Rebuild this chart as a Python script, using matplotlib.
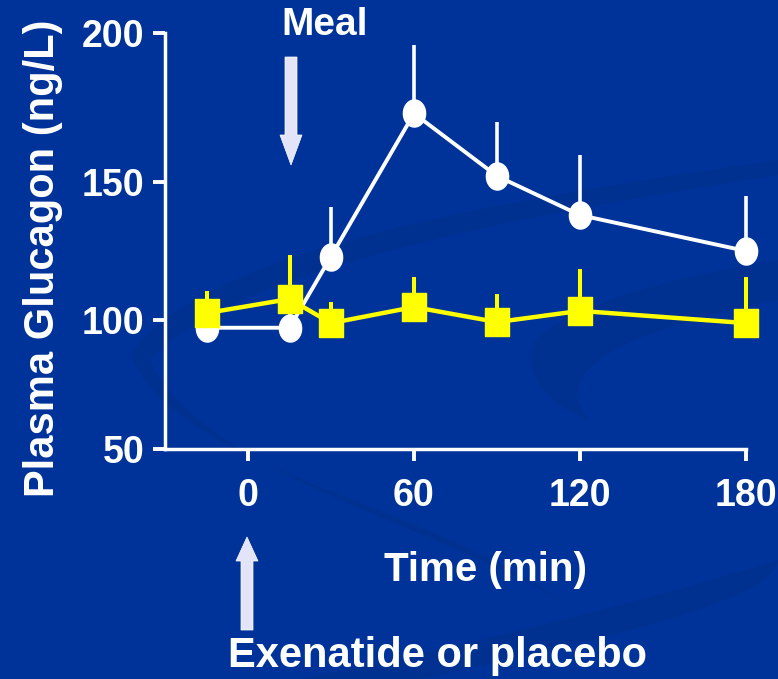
import numpy as np
import matplotlib
matplotlib.use("Agg")
import matplotlib.pyplot as plt
from matplotlib.path import Path
from matplotlib.patches import FancyArrow, PathPatch
from matplotlib.transforms import Affine2D

# ---- data ----
time_min = [-15, 15, 30, 60, 90, 120, 180]
placebo = [97, 97, 123, 173, 152, 138, 125]
placebo_err = [4, 6, 18, 23, 18, 21, 20]
exenatide = [102.5, 107.6, 98.8, 104.7, 99.2, 103.3, 98.8]
exenatide_err = [8, 16, 7.7, 10.9, 10.2, 15.2, 16.8]
x_ticks = [0, 60, 120, 180]
y_ticks = [50, 100, 150, 200]
y_tick_pix = [0, 129, 267, 416]  # drawn (uneven) tick spacing of the original axis

BG = "#003399"
DARK = "#003090"
plt.rcParams['font.family'] = ['Liberation Sans', 'DejaVu Sans']
plt.rcParams['font.weight'] = 'bold'

W, H = 778, 679
fig = plt.figure(figsize=(W / 100, H / 100), dpi=100)
fig.patch.set_facecolor(BG)

# pixel transform (origin top-left)
pix = Affine2D().scale(1 / 100, -1 / 100).translate(0, H / 100) + fig.dpi_scale_trans

# background swooshes
def swoosh(verts, codes, color=DARK, alpha=1.0):
    p = PathPatch(Path(verts, codes), facecolor=color, edgecolor='none',
                  transform=pix, zorder=0, alpha=alpha)
    fig.add_artist(p)

C4 = Path.CURVE4
swoosh([(130, 355), (200, 250), (500, 200), (778, 160), (778, 175),
        (520, 215), (230, 270), (150, 360), (200, 470), (420, 520), (560, 600),
        (420, 500), (180, 470), (130, 355)],
       [Path.MOVETO, C4, C4, C4, Path.LINETO, C4, C4, C4, C4, C4, C4, C4, C4, C4])
swoosh([(778, 260), (650, 280), (520, 320), (530, 360), (535, 390), (560, 410), (590, 420),
        (560, 390), (570, 340), (778, 300), (778, 260)],
       [Path.MOVETO, C4, C4, C4, C4, C4, C4, C4, C4, C4, Path.CLOSEPOLY])
swoosh([(778, 560), (650, 600), (450, 650), (300, 679), (420, 679), (600, 640), (778, 600), (778, 560)],
       [Path.MOVETO, C4, C4, C4, Path.LINETO, C4, C4, Path.CLOSEPOLY])

ax = fig.add_axes([165 / W, (H - 449) / H, 581 / W, 416 / H])
ax.set_facecolor('none')

def fwd(y):
    y = np.asarray(y, dtype=float)
    out = np.interp(y, y_ticks, y_tick_pix)
    lo = y < y_ticks[0]
    hi = y > y_ticks[-1]
    out = np.where(lo, (y - y_ticks[0]) * (129 / 50), out)
    out = np.where(hi, 416 + (y - y_ticks[-1]) * (149 / 50), out)
    return out

def inv(p):
    p = np.asarray(p, dtype=float)
    out = np.interp(p, y_tick_pix, y_ticks)
    out = np.where(p < 0, y_ticks[0] + p * (50 / 129), out)
    out = np.where(p > 416, y_ticks[-1] + (p - 416) * (50 / 149), out)
    return out

ax.set_yscale('function', functions=(fwd, inv))
ax.set_xlim(-30, 180)
ax.set_ylim(50, 200)

# elliptical markers (original image is slightly squeezed horizontally)
t = np.linspace(0, 2 * np.pi, 60)
ellipse = Path(np.column_stack([0.82 * np.cos(t), np.sin(t)]), closed=True)
rect = Path([(-0.85, -1), (0.85, -1), (0.85, 1), (-0.85, 1), (-0.85, -1)], closed=True)

ms = 19.5
# placebo (white)
ax.errorbar(time_min, placebo, yerr=[np.zeros(len(placebo)), placebo_err], fmt='none',
            ecolor='white', elinewidth=2.6, capsize=0, zorder=2, clip_on=False)
ax.plot(time_min, placebo, color='white', lw=2.8, marker=ellipse, ms=ms,
        markerfacecolor='white', markeredgecolor='white', zorder=3, clip_on=False)
# exenatide (yellow)
ax.errorbar(time_min, exenatide, yerr=[np.zeros(len(exenatide)), exenatide_err], fmt='none',
            ecolor='#ffff00', elinewidth=2.9, capsize=0, zorder=4, clip_on=False)
ax.plot(time_min, exenatide, color='#ffff00', lw=3.2, marker=rect, ms=ms,
        markerfacecolor='#ffff00', markeredgecolor='#ffff00', zorder=5, clip_on=False)

for s in ['top', 'right']:
    ax.spines[s].set_visible(False)
for s in ['left', 'bottom']:
    ax.spines[s].set_color('white')
    ax.spines[s].set_linewidth(2.5)

ax.set_xticks(x_ticks)
ax.set_xticklabels([str(v) for v in x_ticks])
ax.set_yticks(y_ticks)
ax.set_yticklabels([str(v) for v in y_ticks])
ax.minorticks_off()
ax.tick_params(axis='both', colors='white', length=8.6, width=2.8, labelsize=27)
ax.tick_params(axis='x', pad=12)
ax.tick_params(axis='y', pad=6)
for lab in ax.get_xticklabels() + ax.get_yticklabels():
    lab.set_fontweight('bold')

# texts
fig.text(43, 258, "Plasma Glucagon (ng/L)", rotation=90, ha='center', va='center',
         color='white', fontsize=30, fontweight='bold', transform=pix)
fig.text(485, 570, "Time (min)", ha='center', va='center', color='white',
         fontsize=29, fontweight='bold', transform=pix)
fig.text(438, 656, "Exenatide or placebo", ha='center', va='center', color='white',
         fontsize=30, fontweight='bold', transform=pix)
fig.text(325, 25, "Meal", ha='center', va='center', color='white',
         fontsize=28, fontweight='bold', transform=pix)

# arrows
arrow_col = '#e4e4f8'
fig.add_artist(FancyArrow(291, 57, 0, 108, width=12, head_width=22, head_length=30,
                          length_includes_head=True, transform=pix,
                          facecolor=arrow_col, edgecolor='white', lw=0.5))
fig.add_artist(FancyArrow(247, 630, 0, -93, width=12, head_width=22, head_length=24,
                          length_includes_head=True, transform=pix,
                          facecolor=arrow_col, edgecolor='white', lw=0.5))

fig.savefig("out.png", dpi=100, facecolor=BG)
